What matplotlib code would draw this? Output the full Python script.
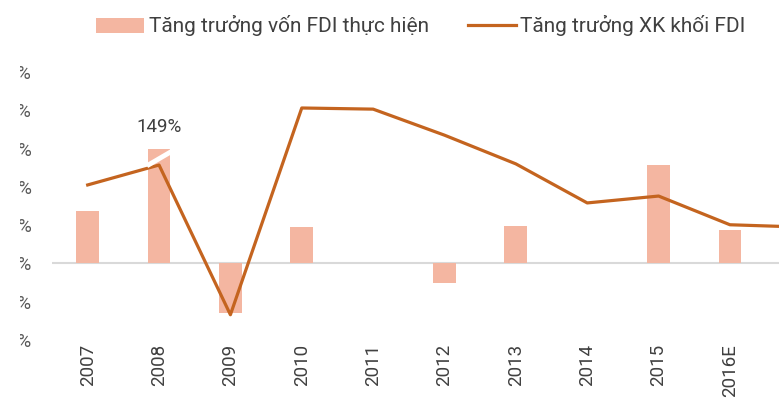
import numpy as np
import matplotlib.pyplot as plt
from matplotlib.patches import Rectangle

plt.rcParams['font.family'] = ['Roboto', 'DejaVu Sans']

# data (%)
years = ['2007', '2008', '2009', '2010', '2011', '2012', '2013', '2014', '2015', '2016E', '2017F']
fdi_von = [13.7, 149, -12.9, 9.5, 0, -5.1, 9.8, 0, 25.7, 8.7, 0]
xk_fdi = [20.5, 25.7, -13.4, 40.6, 40.3, 33.5, 26.0, 15.8, 17.6, 10.1, 9.5]
yticks = [-20, -10, 0, 10, 20, 30, 40, 50]

bar_color = '#F4B6A1'
line_color = '#C4641F'
cap = 30  # bar bigger than the axis is cut

fig = plt.figure(figsize=(7.79, 4.05), dpi=100)
ax = fig.add_axes([52/779, 65/405, 785/779, 268/405])

x = np.arange(len(years))
shown = np.minimum(fdi_von, cap)
bars = ax.bar(x, shown, width=0.32, color=bar_color, zorder=2, label='Tăng trưởng vốn FDI thực hiện')
ax.axhline(0, color='#D9D9D9', lw=1.5, zorder=1)
line, = ax.plot(x, xk_fdi, color=line_color, lw=2.3, zorder=3, label='Tăng trưởng XK khối FDI')

# broken bar mark + real value
for i, v in enumerate(fdi_von):
    if v > cap:
        ax.plot([i - 0.17, i + 0.17], [cap - 4.5, cap - 0.8], color='white', lw=3.5, zorder=4,
                solid_capstyle='butt')
        ax.text(i, cap + 5.6, f'{v:.0f}%', ha='center', va='center', fontsize=13.5, color='#404040')

ax.set_xlim(-0.5, len(years) - 0.5)
ax.set_ylim(-20, 50)
ax.set_xticks(x)
ax.set_xticklabels(years, rotation=90, fontsize=13.5, color='#404040')
ax.set_yticks(yticks)
ax.set_yticklabels([f'{t}%' for t in yticks], fontsize=13.5, color='#595959')
ax.tick_params(axis='x', length=0, pad=3)
ax.tick_params(axis='y', length=0, pad=14.5)
for s in ax.spines.values():
    s.set_visible(False)

fig.legend([bars, line], [bars.get_label(), line.get_label()], loc='center',
           bbox_to_anchor=(421/779, 1 - 26/405), ncol=2, frameon=False,
           fontsize=15, handlelength=2.3, handletextpad=0.2, columnspacing=1.9,
           labelcolor='#404040')

# left strip of the picture is blank (labels are cut)
fig.patches.append(Rectangle((0, 0), 20/779, 1, transform=fig.transFigure,
                             facecolor='white', edgecolor='none', zorder=10))

fig.savefig('out.png', dpi=100)
